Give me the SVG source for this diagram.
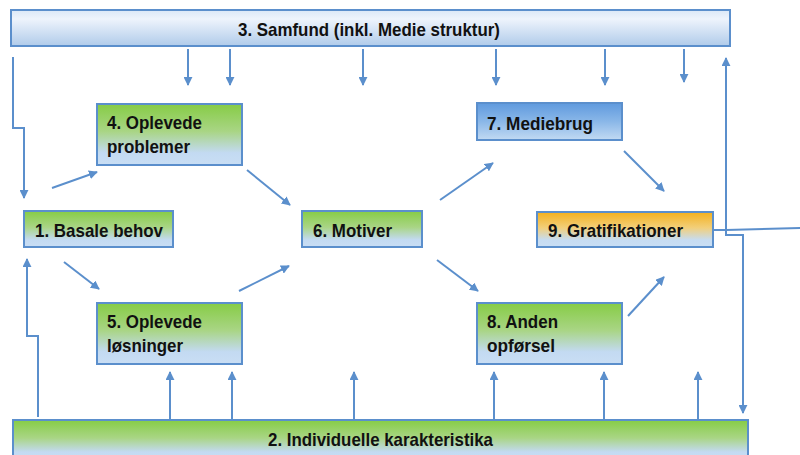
<svg xmlns="http://www.w3.org/2000/svg" width="800" height="455" viewBox="0 0 800 455">
<defs>
<linearGradient id="gGreen" x1="0" y1="0" x2="0" y2="1">
<stop offset="0" stop-color="#86cc45"/>
<stop offset="0.45" stop-color="#a9d585"/>
<stop offset="0.8" stop-color="#c3daf2"/>
<stop offset="1" stop-color="#c9def4"/>
</linearGradient>
<linearGradient id="gBlue" x1="0" y1="0" x2="0" y2="1">
<stop offset="0" stop-color="#5f9ade"/>
<stop offset="0.5" stop-color="#8ab7e8"/>
<stop offset="1" stop-color="#c2daf3"/>
</linearGradient>
<linearGradient id="gOrange" x1="0" y1="0" x2="0" y2="1">
<stop offset="0" stop-color="#f4b01c"/>
<stop offset="0.45" stop-color="#f2cf7a"/>
<stop offset="0.8" stop-color="#c6dcf2"/>
<stop offset="1" stop-color="#c9def4"/>
</linearGradient>
<linearGradient id="gTop" x1="0" y1="0" x2="0" y2="1">
<stop offset="0" stop-color="#dbe8f7"/>
<stop offset="0.25" stop-color="#eef4fc"/>
<stop offset="1" stop-color="#b0cbea"/>
</linearGradient>
<marker id="ah" viewBox="0 0 10 10" refX="9" refY="5" markerWidth="4.5" markerHeight="4.5" orient="auto" markerUnits="strokeWidth">
<path d="M0,0 L10,5 L0,10 z" fill="#5b8fcc"/>
</marker>
<style>
.box{stroke:#5b8fcc;stroke-width:2}
.g{fill:url(#gGreen)}
.b{fill:url(#gBlue)}
.o{fill:url(#gOrange)}
.t{fill:url(#gTop)}
text{font-family:"Liberation Sans",Arial,sans-serif;font-weight:bold;font-size:19px;fill:#111}
.c line,.c path{stroke:#5b8fcc;stroke-width:2;fill:none}
.c .a{marker-end:url(#ah)}
</style>
</defs>

<g id="n3">
<rect class="box t" x="11" y="10" width="719" height="36"/>
<text x="238" y="36" textLength="262" lengthAdjust="spacingAndGlyphs">3. Samfund (inkl. Medie struktur)</text>
</g>
<g id="n2">
<rect class="box g" x="13" y="420" width="735" height="40"/>
<text x="268" y="446" textLength="225" lengthAdjust="spacingAndGlyphs">2. Individuelle karakteristika</text>
</g>
<g id="n1">
<rect class="box g" x="24" y="211" width="149" height="36"/>
<text x="35" y="237" textLength="128" lengthAdjust="spacingAndGlyphs">1. Basale behov</text>
</g>
<g id="n4">
<rect class="box g" x="97" y="104" width="145" height="61"/>
<text x="107" y="129" textLength="95" lengthAdjust="spacingAndGlyphs">4. Oplevede</text>
<text x="107" y="153" textLength="83" lengthAdjust="spacingAndGlyphs">problemer</text>
</g>
<g id="n5">
<rect class="box g" x="97" y="303" width="145" height="61"/>
<text x="107" y="328" textLength="95" lengthAdjust="spacingAndGlyphs">5. Oplevede</text>
<text x="107" y="352" textLength="76" lengthAdjust="spacingAndGlyphs">løsninger</text>
</g>
<g id="n6">
<rect class="box g" x="302" y="211" width="120" height="36"/>
<text x="313" y="237" textLength="79" lengthAdjust="spacingAndGlyphs">6. Motiver</text>
</g>
<g id="n7">
<rect class="box b" x="477" y="103" width="145" height="37"/>
<text x="487" y="130" textLength="106" lengthAdjust="spacingAndGlyphs">7. Mediebrug</text>
</g>
<g id="n8">
<rect class="box g" x="477" y="303" width="145" height="61"/>
<text x="487" y="328" textLength="71" lengthAdjust="spacingAndGlyphs">8. Anden</text>
<text x="487" y="352" textLength="68" lengthAdjust="spacingAndGlyphs">opførsel</text>
</g>
<g id="n9">
<rect class="box o" x="537" y="212" width="176" height="35"/>
<text x="548" y="237" textLength="135" lengthAdjust="spacingAndGlyphs">9. Gratifikationer</text>
</g>

<g id="connectors" class="c">
<line class="a" x1="188" y1="49" x2="188" y2="85"/>
<line class="a" x1="230" y1="49" x2="230" y2="85"/>
<line class="a" x1="363" y1="49" x2="363" y2="85"/>
<line class="a" x1="496" y1="49" x2="496" y2="85"/>
<line class="a" x1="605" y1="49" x2="605" y2="85"/>
<line class="a" x1="684" y1="49" x2="684" y2="82"/>
<line class="a" x1="170" y1="419" x2="170" y2="372"/>
<line class="a" x1="232" y1="419" x2="232" y2="372"/>
<line class="a" x1="354" y1="419" x2="354" y2="372"/>
<line class="a" x1="494" y1="419" x2="494" y2="372"/>
<line class="a" x1="604" y1="419" x2="604" y2="372"/>
<line class="a" x1="698" y1="419" x2="698" y2="372"/>
<path class="a" d="M13,57 L13,128 L24,128 L24,198"/>
<path class="a" d="M38,417 L38,336 L27,336 L27,259"/>
<line class="a" x1="52" y1="188" x2="97" y2="172"/>
<line class="a" x1="247" y1="170" x2="290" y2="205"/>
<line class="a" x1="64" y1="262" x2="99" y2="289"/>
<line class="a" x1="239" y1="291" x2="289" y2="266"/>
<line class="a" x1="440" y1="200" x2="493" y2="163"/>
<line class="a" x1="624" y1="151" x2="664" y2="191"/>
<line class="a" x1="437" y1="260" x2="478" y2="291"/>
<line class="a" x1="628" y1="316" x2="664" y2="277"/>
<path d="M713,230 L726,230 L800,228"/>
<path class="a" d="M726,231 L726,58"/>
<path class="a" d="M726,230 L726,235 L743,235 L743,413"/>
</g>
</svg>
